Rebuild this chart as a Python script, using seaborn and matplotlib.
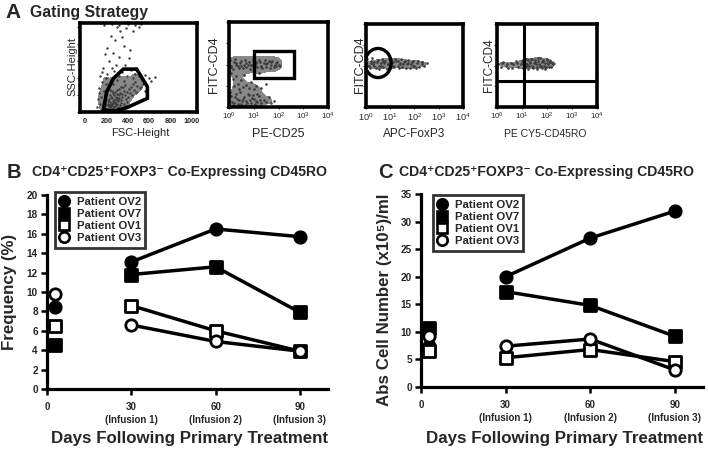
import numpy as np
import pandas as pd
import matplotlib
matplotlib.use('Agg')
import matplotlib.pyplot as plt
import seaborn as sns
from matplotlib.lines import Line2D
from matplotlib.patches import Polygon, Ellipse, Rectangle
from matplotlib.colors import ListedColormap

sns.set_theme(style='ticks')
plt.rcParams['font.family'] = ['Liberation Sans', 'DejaVu Sans']
plt.rcParams['mathtext.fontset'] = 'custom'
plt.rcParams['mathtext.rm'] = 'Liberation Sans'
plt.rcParams['mathtext.it'] = 'Liberation Sans:italic'
plt.rcParams['mathtext.bf'] = 'Liberation Sans:bold'

# ---------------- data: panels B and C ----------------
patients = ['Patient OV2', 'Patient OV7', 'Patient OV1', 'Patient OV3']
days = [30, 60, 90]
day_ticks = [0, 30, 60, 90]
day_labels = ['0', '30\n(Infusion 1)', '60\n(Infusion 2)', '90\n(Infusion 3)']
baseline_day = 3

freq_ov2 = [13.1, 16.5, 15.7]
freq_ov7 = [11.8, 12.6, 7.9]
freq_ov1 = [8.6, 6.0, 3.9]
freq_ov3 = [6.6, 4.9, 3.9]
freq_base = [8.5, 4.5, 6.5, 9.8]      # OV2, OV7, OV1, OV3

abs_ov2 = [20.0, 27.0, 31.9]
abs_ov7 = [17.3, 14.8, 9.2]
abs_ov1 = [5.3, 6.8, 4.6]
abs_ov3 = [7.4, 8.7, 3.1]
abs_base = [7.5, 10.7, 6.6, 9.2]      # OV2, OV7, OV1, OV3

# ---------------- data: panel A (flow cytometry dots) ----------------
# plot 1: FSC-Height vs SSC-Height
p1_fsc = [205, 220, 235, 250, 265, 280, 295, 310, 325, 340,
          215, 230, 245, 260, 275, 290, 305, 320, 335, 350,
          225, 240, 255, 270, 285, 300, 315, 330, 345, 360,
          200, 212, 238, 262, 278, 298, 318, 338, 358, 378,
          370, 390, 410, 430, 450, 470, 490, 510, 420, 460,
          380, 400, 440, 480, 520, 540, 395, 365, 355, 385,
          190, 180, 195, 185, 175, 265, 300, 330, 250, 230,
          242, 258, 272, 288, 302, 228, 268, 312, 282, 248,
          110, 120, 130, 140, 150, 160, 170, 175, 200, 210,
          225, 240, 260, 270, 280, 290, 300, 320, 330, 345,
          360, 375, 395, 410, 430, 445, 470, 500, 530, 560,
          600, 620, 650, 240, 300, 350, 210, 185, 160, 420,
          480, 265, 315, 360, 255, 195, 135, 380, 450, 500,
          180, 250, 320, 400, 470, 520, 140, 560]
p1_ssc = [40, 65, 55, 80, 45, 70, 95, 60, 85, 110,
          100, 120, 95, 135, 110, 150, 125, 165, 140, 180,
          150, 175, 160, 195, 180, 210, 195, 230, 215, 250,
          85, 130, 200, 225, 240, 260, 275, 290, 300, 320,
          200, 240, 270, 300, 330, 350, 310, 280, 220, 260,
          150, 180, 200, 240, 300, 330, 120, 100, 60, 75,
          30, 60, 150, 110, 45, 20, 30, 40, 250, 260,
          70, 105, 140, 90, 165, 85, 60, 140, 120, 30,
          60, 150, 280, 420, 180, 350, 520, 250, 330, 450,
          600, 380, 700, 480, 850, 560, 380, 650, 950, 470,
          780, 560, 420, 640, 500, 400, 450, 420, 380, 440,
          400, 370, 410, 900, 1000, 880, 760, 680, 470, 730,
          520, 330, 430, 360, 520, 400, 220, 990, 950, 1000,
          1030, 1035, 1030, 1040, 1030, 1035, 90, 250]

# plot 2: PE-CD25 vs FITC-CD4 (log10 decades)
p2_x = [0.02, 0.1, 0.2, 0.3, 0.4, 0.5, 0.6, 0.7, 0.8, 0.9, 1.0, 1.1, 1.2, 1.3, 1.4, 1.5,
        1.6, 1.7, 1.8, 1.9, 2.0, 2.05, 0.05, 0.15, 0.25, 0.35, 0.45, 0.55, 0.65, 0.75,
        0.85, 0.95, 1.05, 1.15, 1.25, 1.35, 1.45, 1.55, 1.65, 1.75, 1.85, 1.95,
        0.08, 0.28, 0.48, 0.68, 0.88, 1.08, 1.28, 1.48, 1.68, 1.88,
        0.02, 0.1, 0.2, 0.3, 0.4, 0.5, 0.6, 0.7, 0.8, 0.9, 1.0, 1.1, 1.2, 1.3, 1.4,
        1.5, 1.6, 1.7, 1.8, 0.05, 0.15, 0.25, 0.35, 0.45, 0.55, 0.65, 0.75, 0.85,
        0.95, 1.05, 1.15, 1.25, 0.12, 0.32, 0.52, 0.72, 0.92, 1.12,
        0.1, 0.15, 0.2, 0.3, 0.35, 0.4, 0.5, 0.55, 0.6, 0.7, 0.8, 0.9, 1.0, 1.1, 1.2,
        1.3, 1.5]
p2_y = [2.0, 1.9, 2.1, 2.0, 1.85, 2.15, 2.0, 1.9, 2.1, 2.0, 1.85, 2.05, 2.2, 1.95, 2.05, 1.9,
        2.15, 2.0, 1.9, 2.05, 2.0, 1.95, 2.2, 1.8, 2.25, 1.95, 2.05, 1.85, 2.2, 2.0,
        1.8, 2.2, 2.0, 1.9, 2.1, 1.85, 2.2, 2.05, 1.85, 2.15, 2.0, 2.1,
        1.95, 2.05, 1.92, 2.08, 1.96, 2.12, 1.88, 2.02, 2.1, 1.94,
        0.3, 0.5, 0.2, 0.6, 0.35, 0.15, 0.45, 0.3, 0.55, 0.2, 0.4, 0.3, 0.5, 0.2, 0.35,
        0.25, 0.45, 0.2, 0.3, 0.7, 0.1, 0.45, 0.15, 0.7, 0.4, 0.1, 0.6, 0.35,
        0.55, 0.15, 0.6, 0.35, 0.25, 0.4, 0.28, 0.18, 0.42, 0.22,
        1.6, 1.3, 1.0, 1.45, 1.1, 0.85, 1.25, 0.95, 1.5, 1.05, 0.9, 1.2, 0.85, 1.0, 1.6,
        0.9, 1.1]

# plot 3: APC-FoxP3 vs FITC-CD4 (log10 decades)
p3_x = [0.02, 0.1, 0.2, 0.3, 0.4, 0.5, 0.6, 0.7, 0.8, 0.9, 1.0, 1.1, 1.2, 1.3, 1.4, 1.5,
        1.6, 1.7, 1.8, 1.9, 2.0, 2.1, 2.2, 2.3, 2.4, 2.5,
        0.05, 0.15, 0.25, 0.35, 0.45, 0.55, 0.65, 0.75, 0.85, 0.95, 1.05, 1.15, 1.25,
        1.35, 1.45, 1.55, 1.65, 1.75, 1.85, 1.95, 2.05, 2.15, 2.3,
        0.12, 0.32, 0.52, 0.72, 0.92, 1.12, 1.32, 1.52, 1.72, 1.92, 0.22, 0.62, 1.02, 1.42]
p3_y = [2.1, 2.0, 2.2, 2.05, 1.9, 2.25, 2.1, 1.95, 2.2, 2.05, 1.9, 2.15, 2.3, 2.0, 2.1, 1.95,
        2.2, 2.05, 1.9, 2.15, 2.0, 2.1, 1.95, 2.05, 2.0, 2.1,
        2.3, 1.9, 2.35, 2.0, 2.15, 1.85, 2.3, 2.1, 1.85, 2.3, 2.1, 1.95, 2.2,
        1.9, 2.3, 2.15, 1.9, 2.25, 2.05, 2.2, 1.9, 2.2, 2.15,
        2.0, 2.15, 2.0, 2.2, 2.05, 2.0, 2.2, 2.05, 2.12, 2.0, 2.1, 1.98, 2.25, 2.08]

# plot 4: PE CY5-CD45RO vs FITC-CD4 (log10 decades)
p4_x = [0.05, 0.15, 0.25, 0.35, 0.45, 0.55, 0.65, 0.75, 0.85, 0.2, 0.4, 0.6, 0.8,
        0.95, 1.0, 1.05, 1.1, 1.15, 1.2, 1.25, 1.3, 1.35, 1.4, 1.45, 1.5, 1.55, 1.6,
        1.65, 1.7, 1.75, 1.8, 1.85, 1.9, 1.95, 2.0, 2.05, 2.1, 2.15, 2.2, 2.25,
        1.02, 1.12, 1.22, 1.32, 1.42, 1.52, 1.62, 1.72, 1.82, 1.92, 2.02, 2.12,
        1.08, 1.18, 1.28, 1.38, 1.48, 1.58, 1.68, 1.78, 1.88, 1.98, 2.08]
p4_y = [2.05, 1.95, 2.15, 2.0, 1.9, 2.1, 2.05, 2.2, 1.95, 2.1, 2.05, 1.9, 2.1,
        2.05, 2.2, 1.9, 2.1, 2.3, 2.0, 1.85, 2.15, 2.3, 2.0, 1.9, 2.25, 2.05, 1.85,
        2.2, 2.35, 2.0, 1.9, 2.25, 2.1, 1.95, 2.3, 2.05, 2.15, 1.95, 2.1, 2.05,
        2.1, 1.95, 2.25, 2.1, 1.95, 2.15, 2.35, 2.0, 2.2, 1.85, 2.1, 2.2,
        1.9, 2.05, 2.0, 2.3, 2.1, 1.95, 2.05, 2.15, 1.98, 2.25, 1.95]

# gates (data coordinates)
gate1_fsc = [171, 203, 265, 358, 483, 583, 583, 390, 280]
gate1_ssc = [24, 239, 396, 506, 506, 298, 161, 51, 12]
gate2_x = [1.02, 2.64]       # log10 decades
gate2_y = [1.35, 2.64]
gate4_x = 1.08
gate4_y = 1.27

W, H = 708, 449
fig = plt.figure(figsize=(W / 100, H / 100), dpi=100)
fig.patch.set_facecolor('white')


def rect(l, t, r, b):
    return [l / W, 1 - b / H, (r - l) / W, (b - t) / H]


def ftext(px, py, s, **kw):
    fig.text(px / W, 1 - py / H, s, **kw)


dot_color = '#3a3a3a'
cloud_cmap = ListedColormap(['#6a6a6a', '#6a6a6a'])
flow_lw = 2.6

# ---------------- panel A ----------------
ax1 = fig.add_axes(rect(80, 23, 197, 112))
df1 = pd.DataFrame({'fsc': p1_fsc, 'ssc': p1_ssc})
sns.kdeplot(data=df1, x='fsc', y='ssc', ax=ax1, fill=True, levels=[0.4, 1.0],
            cmap=cloud_cmap, alpha=0.8, bw_adjust=0.7)
sns.scatterplot(data=df1, x='fsc', y='ssc', ax=ax1, s=3, color=dot_color,
                linewidth=0, legend=False)
ax1.add_patch(Polygon(list(zip(gate1_fsc, gate1_ssc)), closed=True, fill=False,
                      edgecolor='black', lw=2.6, zorder=4))
ax1.set_xlim(-47, 1047)
ax1.set_ylim(0, 1050)
ax1.set_xticks([0, 200, 400, 600, 800, 1000])
ax1.set_xticklabels(['0', '200', '400', '600', '800', '1000'], fontsize=5.2,
                    fontweight='bold')
ax1.set_yticks([0, 200, 400, 600, 800, 1000])
ax1.set_yticklabels([])
ax1.tick_params(axis='x', length=0, pad=4.5)
ax1.tick_params(axis='y', length=2, width=0.8, pad=1)
ax1.set_xlabel('')
ax1.set_ylabel('')

decade_ticks = [1, 10, 100, 1000, 10000]
decade_labels = [r'$10^{0}$', r'$10^{1}$', r'$10^{2}$', r'$10^{3}$', r'$10^{4}$']

flow_axes = []
for (rc, xs, ys, lab_size) in [((229, 22, 328, 107), p2_x, p2_y, 5.8),
                               ((366, 24, 463, 107), p3_x, p3_y, 6.6),
                               ((497, 24, 597, 107), p4_x, p4_y, 5.8)]:
    ax = fig.add_axes(rect(*rc))
    dfl = pd.DataFrame({'x': np.power(10.0, xs), 'y': np.power(10.0, ys)})
    sns.kdeplot(data=dfl, x='x', y='y', ax=ax, fill=True, levels=[0.2, 1.0],
                log_scale=True, cmap=cloud_cmap, alpha=0.8, bw_adjust=0.6)
    sns.scatterplot(data=dfl, x='x', y='y', ax=ax, s=3.5, color=dot_color,
                    linewidth=0, legend=False)
    ax.set_xscale('log')
    ax.set_yscale('log')
    ax.set_xlim(1, 1e4)
    ax.set_ylim(1, 1e4)
    ax.set_xticks(decade_ticks)
    ax.set_xticklabels(decade_labels, fontsize=lab_size)
    ax.set_yticks(decade_ticks)
    ax.set_yticklabels([])
    ax.minorticks_off()
    ax.tick_params(axis='x', length=1.5, width=0.8, pad=1.5)
    ax.tick_params(axis='y', length=2.5, width=0.8, pad=1)
    ax.set_xlabel('')
    ax.set_ylabel('')
    flow_axes.append(ax)

ax2, ax3, ax4 = flow_axes
ax2.add_patch(Rectangle((10 ** gate2_x[0], 10 ** gate2_y[0]),
                        10 ** gate2_x[1] - 10 ** gate2_x[0],
                        10 ** gate2_y[1] - 10 ** gate2_y[0],
                        fill=False, edgecolor='black', lw=2.4, zorder=4))
ax3.add_patch(Ellipse((0.124, 0.53), 0.27, 0.35, transform=ax3.transAxes,
                      fill=False, edgecolor='black', lw=2.4, zorder=4))
ax4.axvline(10 ** gate4_x, color='black', lw=2.2, zorder=4)
ax4.axhline(10 ** gate4_y, color='black', lw=2.2, zorder=4)

for ax in [ax1, ax2, ax3, ax4]:
    for sp in ax.spines.values():
        sp.set_linewidth(flow_lw)
        sp.set_color('black')
    ax.set_facecolor('white')

# panel A labels
ftext(5, 12, 'A', fontsize=15, fontweight='bold', va='center', ha='left')
ftext(30, 12, 'Gating Strategy', fontsize=11.3, fontweight='bold', va='center', ha='left')
ftext(72, 67, 'SSC-Height', fontsize=8, rotation=90, ha='center', va='center')
ftext(140, 133, 'FSC-Height', fontsize=8, ha='center', va='center')
ftext(214, 65, 'FITC-CD4', fontsize=9, rotation=90, ha='center', va='center')
ftext(278, 134, 'PE-CD25', fontsize=9, ha='center', va='center')
ftext(360, 65, 'FITC-CD4', fontsize=9, rotation=90, ha='center', va='center')
ftext(414, 134, 'APC-FoxP3', fontsize=8.5, ha='center', va='center')
ftext(489, 65, 'FITC-CD4', fontsize=8.5, rotation=90, ha='center', va='center')
ftext(545, 134, 'PE CY5-CD45RO', fontsize=7.5, ha='center', va='center')

# ---------------- panels B and C ----------------
markers = ['o', 's', 's', 'o']
faces = ['black', 'black', 'white', 'white']
line_lw = 2.5
mk_size = 8.2
title_txt = 'CD4\u207aCD25\u207aFOXP3\u207b Co-Expressing CD45RO'


def line_panel(rc, series, base, ymax, ystep, ylabel, letter, letter_px,
               title_px, legend_px, ylab_px):
    ax = fig.add_axes(rect(*rc))
    for vals in series:
        sns.lineplot(x=days, y=vals, ax=ax, color='black', lw=line_lw, zorder=2)
    for i, vals in enumerate(series):
        sns.scatterplot(x=days, y=vals, ax=ax, marker=markers[i], s=mk_size ** 2,
                        facecolor=faces[i], edgecolor='black', linewidth=2.0,
                        zorder=3, legend=False)
    for i in range(len(base)):
        sns.scatterplot(x=[baseline_day], y=[base[i]], ax=ax, marker=markers[i],
                        s=mk_size ** 2, facecolor=faces[i], edgecolor='black',
                        linewidth=2.0, zorder=3, legend=False, clip_on=False)
    ax.set_xlim(0, 100)
    ax.set_ylim(0, ymax)
    ax.set_xticks(day_ticks)
    ax.set_xticklabels(day_labels, fontsize=7, fontweight='bold', linespacing=1.4)
    ax.set_yticks(np.arange(0, ymax + 0.01, ystep))
    ax.set_yticklabels([str(int(v)) for v in np.arange(0, ymax + 0.01, ystep)],
                       fontsize=7.2, fontweight='bold')
    ax.tick_params(axis='both', length=4, width=1.8, color='black')
    ax.tick_params(axis='x', pad=5)
    ax.tick_params(axis='y', pad=2.5)
    sns.despine(ax=ax)
    for sp in ['left', 'bottom']:
        ax.spines[sp].set_linewidth(2.3)
        ax.spines[sp].set_color('black')
    ax.set_facecolor('white')
    ax.set_xlabel('')
    ax.set_ylabel('')
    handles = [Line2D([], [], marker=markers[i], color='black', linestyle='none',
                      markerfacecolor=faces[i], markeredgecolor='black',
                      markersize=7.5, markeredgewidth=1.9) for i in range(4)]
    leg = ax.legend(handles, patients, loc='upper left',
                    bbox_to_anchor=(legend_px[0] / W, 1 - legend_px[1] / H),
                    bbox_transform=fig.transFigure, frameon=True, fancybox=False,
                    edgecolor='black', prop={'weight': 'bold', 'size': 8.2},
                    handlelength=0.8, handletextpad=0.7, labelspacing=0.2,
                    borderpad=0.4, borderaxespad=0)
    leg.get_frame().set_linewidth(2.0)
    leg.get_frame().set_facecolor('white')
    leg.set_zorder(5)
    ftext(letter_px[0], letter_px[1], letter, fontsize=14.5, fontweight='bold',
          ha='left', va='center')
    ftext(title_px[0], title_px[1], title_txt, fontsize=10.1, fontweight='bold',
          ha='left', va='center')
    ftext(ylab_px[0], ylab_px[1], ylabel, fontsize=12.2, fontweight='bold',
          rotation=90, ha='center', va='center')
    ftext((rc[0] + rc[2]) / 2 + 2, 438, 'Days Following Primary Treatment',
          fontsize=12.2, fontweight='bold', ha='center', va='center')
    return ax


axB = line_panel((47, 195, 328, 389), [freq_ov2, freq_ov7, freq_ov1, freq_ov3],
                 freq_base, 20, 2, 'Frequency (%)', 'B', (7, 172), (32, 172),
                 (55, 192), (10, 292))
axC = line_panel((421, 194, 703, 387), [abs_ov2, abs_ov7, abs_ov1, abs_ov3],
                 abs_base, 35, 5, 'Abs Cell Number (x10\u2075)/ml', 'C', (378, 172),
                 (399, 172), (433, 195), (384, 300))

fig.savefig('out.png', dpi=100, facecolor='white')
